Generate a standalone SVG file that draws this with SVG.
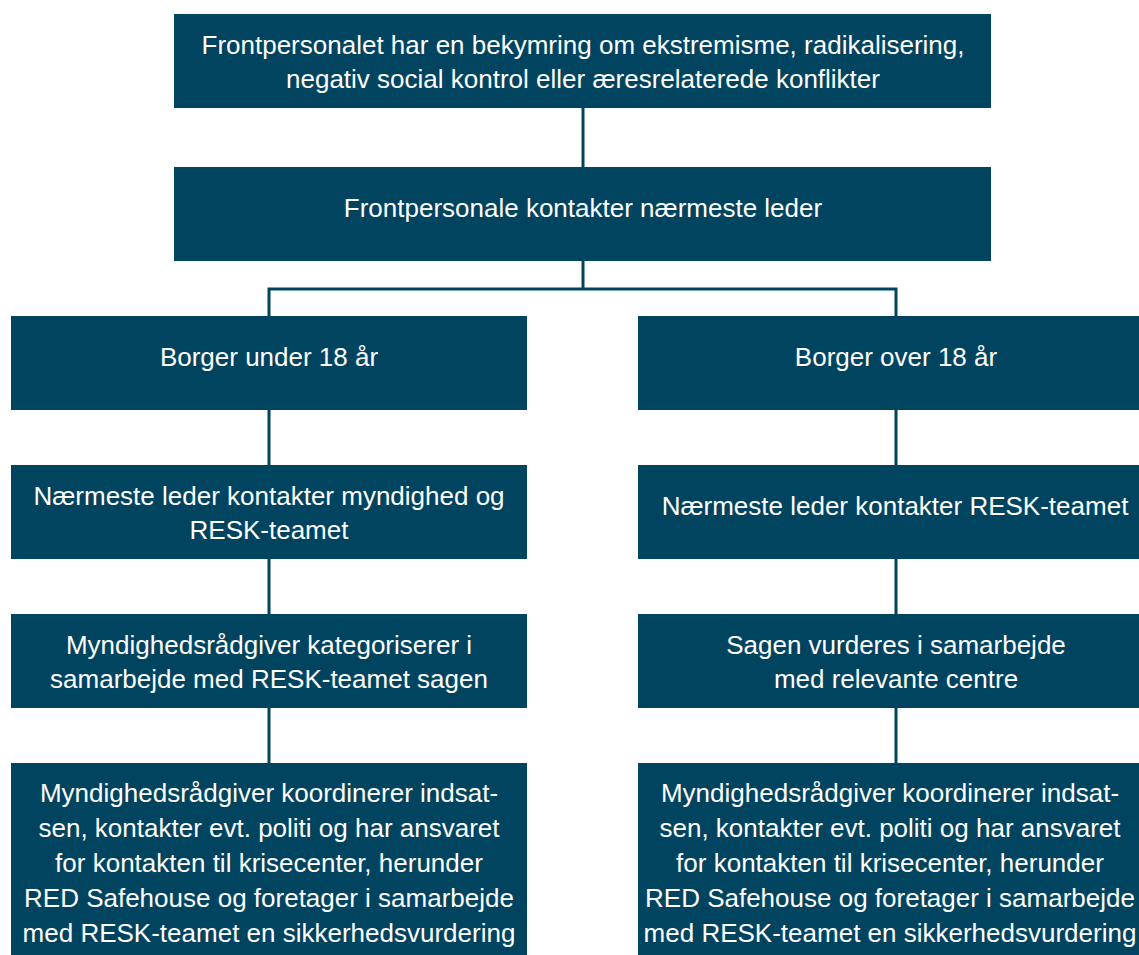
<svg xmlns="http://www.w3.org/2000/svg" width="1139" height="955" viewBox="0 0 1139 955">
<style>
.box{fill:#01445F}
.t{font-family:"Liberation Sans",Arial,sans-serif;font-size:26px;fill:#FFFFFF;text-anchor:middle}
.c{stroke:#01445F;stroke-width:3;fill:none}
</style>
<rect width="1139" height="955" fill="#FFFFFF"/>
<g id="connectors">
<path class="c" d="M583,107 V167"/>
<path class="c" d="M583,260 V289 M269,289 H896 M269,287.5 V316 M896,287.5 V316"/>
<path class="c" d="M269,410 V465 M269,559 V614 M269,708 V763"/>
<path class="c" d="M896,410 V465 M896,559 V614 M896,708 V763"/>
</g>
<g id="n1">
<rect class="box" x="174" y="14" width="817" height="94"/>
<text class="t" x="583" y="54">Frontpersonalet har en bekymring om ekstremisme, radikalisering,</text>
<text class="t" x="583" y="88">negativ social kontrol eller æresrelaterede konflikter</text>
</g>
<g id="n2">
<rect class="box" x="174" y="167" width="817" height="94"/>
<text class="t" x="583" y="217">Frontpersonale kontakter nærmeste leder</text>
</g>
<g id="n3">
<rect class="box" x="11" y="316" width="516" height="94"/>
<text class="t" x="269" y="366">Borger under 18 år</text>
</g>
<g id="n4">
<rect class="box" x="638" y="316" width="516" height="94"/>
<text class="t" x="896" y="366">Borger over 18 år</text>
</g>
<g id="n5">
<rect class="box" x="11" y="465" width="516" height="94"/>
<text class="t" x="269" y="505">Nærmeste leder kontakter myndighed og</text>
<text class="t" x="269" y="539">RESK-teamet</text>
</g>
<g id="n6">
<rect class="box" x="638" y="465" width="516" height="94"/>
<text class="t" x="895" y="515">Nærmeste leder kontakter RESK-teamet</text>
</g>
<g id="n7">
<rect class="box" x="11" y="614" width="516" height="94"/>
<text class="t" x="269" y="654">Myndighedsrådgiver kategoriserer i</text>
<text class="t" x="269" y="688">samarbejde med RESK-teamet sagen</text>
</g>
<g id="n8">
<rect class="box" x="638" y="614" width="516" height="94"/>
<text class="t" x="896" y="654">Sagen vurderes i samarbejde</text>
<text class="t" x="896" y="688">med relevante centre</text>
</g>
<g id="n9">
<rect class="box" x="11" y="763" width="516" height="200"/>
<text class="t" x="269" y="802">Myndighedsrådgiver koordinerer indsat-</text>
<text class="t" x="269" y="837">sen, kontakter evt. politi og har ansvaret</text>
<text class="t" x="269" y="872">for kontakten til krisecenter, herunder</text>
<text class="t" x="269" y="907">RED Safehouse og foretager i samarbejde</text>
<text class="t" x="269" y="942">med RESK-teamet en sikkerhedsvurdering</text>
</g>
<g id="n10">
<rect class="box" x="638" y="763" width="516" height="200"/>
<text class="t" x="890" y="802">Myndighedsrådgiver koordinerer indsat-</text>
<text class="t" x="890" y="837">sen, kontakter evt. politi og har ansvaret</text>
<text class="t" x="890" y="872">for kontakten til krisecenter, herunder</text>
<text class="t" x="890" y="907">RED Safehouse og foretager i samarbejde</text>
<text class="t" x="890" y="942">med RESK-teamet en sikkerhedsvurdering</text>
</g>
</svg>
